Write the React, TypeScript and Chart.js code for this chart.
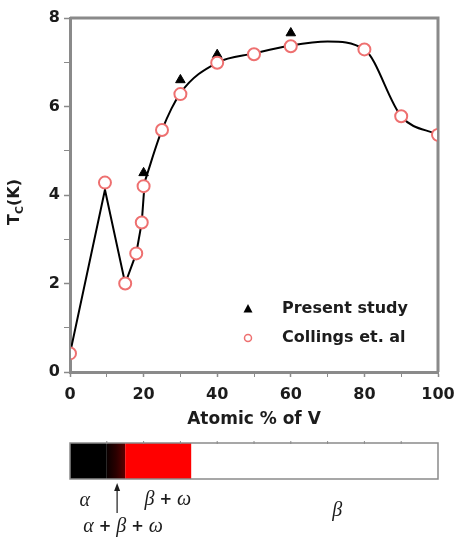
import React, { useEffect, useRef } from 'react';
import { Chart, registerables } from 'chart.js';

Chart.register(...registerables);

// ---- data ----
const collingsX = [0, 9.5, 15, 18, 19.5, 20, 25, 30, 40, 50, 60, 80, 90, 100];
const collingsTc = [0.42, 4.28, 2.0, 2.68, 3.38, 4.2, 5.47, 6.28, 6.99, 7.18, 7.36, 7.29, 5.78, 5.36];
const presentX = [20, 30, 40, 60];
const presentTc = [4.5, 6.6, 7.17, 7.66];
const kinkX = [0, 9.5, 15, 18, 19.5, 20.3];
const kinkTc = [0.42, 4.12, 2.0, 2.68, 3.38, 4.3];
const curveX = [20.3, 25, 30, 40, 50, 60, 70, 80, 90, 100];
const curveTc = [4.3, 5.47, 6.3, 6.99, 7.2, 7.38, 7.47, 7.29, 5.78, 5.36];
const xTickLabels = [0, 20, 40, 60, 80, 100];
const yTickLabels = [0, 2, 4, 6, 8];
const phaseNames = ['α', 'α + β + ω', 'β + ω', 'β'];
const phaseBounds = [0, 10, 15, 33, 100];
const phaseLabelX = [4, 14.4, 26.6, 72.6];
const arrowX = 12.8;
const legendNames = ['Present study', 'Collings et. al'];

const GRAY = '#8a8a8a';
const INK = '#1c1c1c';
const CIRCLE = '#ee7070';
const SANS = '"DejaVu Sans", sans-serif';
const SERIF = '"Liberation Serif", "DejaVu Serif", serif';

function pts(xs: number[], ys: number[]) {
  return xs.map((x, i) => ({ x, y: ys[i] }));
}

function drawGreek(ctx: CanvasRenderingContext2D, text: string, cx: number, cy: number) {
  const parts = text.split(' ');
  const fontFor = (p: string) => (p === '+' ? `bold 15px ${SANS}` : `italic 20px ${SERIF}`);
  const gap = 5;
  let total = 0;
  const widths = parts.map((p) => {
    ctx.font = fontFor(p);
    const w = ctx.measureText(p).width;
    total += w;
    return w;
  });
  total += gap * (parts.length - 1);
  let x = cx - total / 2;
  ctx.textBaseline = 'middle';
  ctx.textAlign = 'left';
  parts.forEach((p, i) => {
    ctx.font = fontFor(p);
    ctx.fillText(p, x, cy);
    x += widths[i] + gap;
  });
}

const framePlugin = {
  id: 'frame',
  beforeDatasetsDraw(chart: any) {
    const { ctx, chartArea: a } = chart;
    ctx.save();
    ctx.strokeStyle = GRAY;
    ctx.lineWidth = 3;
    ctx.beginPath();
    ctx.moveTo(a.left, a.top);
    ctx.lineTo(a.right, a.top);
    ctx.lineTo(a.right, a.bottom);
    ctx.stroke();
    ctx.restore();
    ctx.save();
    ctx.beginPath();
    ctx.rect(a.left + 1, a.top - 12, a.right - a.left - 2, a.bottom - a.top + 12);
    ctx.clip();
  },
  afterDatasetsDraw(chart: any) {
    chart.ctx.restore();
  },
};

const decorPlugin = {
  id: 'decor',
  afterDraw(chart: any) {
    const { ctx, chartArea: a, scales } = chart;
    const xs = scales.x;
    ctx.save();

    // y axis title with subscript
    ctx.translate(15, (a.top + a.bottom) / 2 + 7);
    ctx.rotate(-Math.PI / 2);
    ctx.fillStyle = INK;
    ctx.textBaseline = 'middle';
    ctx.textAlign = 'left';
    const big = `bold 16px ${SANS}`;
    const small = `bold 11px ${SANS}`;
    ctx.font = big;
    const wT = ctx.measureText('T').width;
    ctx.font = small;
    const wC = ctx.measureText('C').width;
    ctx.font = big;
    const wK = ctx.measureText('(K)').width;
    let tx = -(wT + wC + wK) / 2;
    ctx.fillText('T', tx, 0);
    tx += wT;
    ctx.font = small;
    ctx.fillText('C', tx, 5);
    tx += wC;
    ctx.font = big;
    ctx.fillText('(K)', tx, 0);
    ctx.restore();

    // legend inside plot
    ctx.save();
    const mx = a.left + 178;
    const tx0 = a.left + 212;
    const ly = [a.top + 291, a.top + 320];
    ctx.fillStyle = '#000';
    ctx.beginPath();
    ctx.moveTo(mx, ly[0] - 5);
    ctx.lineTo(mx + 4.5, ly[0] + 3.5);
    ctx.lineTo(mx - 4.5, ly[0] + 3.5);
    ctx.closePath();
    ctx.fill();
    ctx.strokeStyle = CIRCLE;
    ctx.lineWidth = 1.5;
    ctx.beginPath();
    ctx.arc(mx, ly[1], 3.5, 0, Math.PI * 2);
    ctx.stroke();
    ctx.fillStyle = INK;
    ctx.font = `bold 16px ${SANS}`;
    ctx.textBaseline = 'middle';
    ctx.textAlign = 'left';
    legendNames.forEach((n, i) => ctx.fillText(n, tx0, ly[i]));
    ctx.restore();

    // phase bar
    ctx.save();
    const top = a.bottom + 71;
    const h = 36;
    const colors = ['#000000', null, '#ff0000', '#ffffff'];
    for (let i = 0; i < phaseNames.length; i++) {
      const x0 = xs.getPixelForValue(phaseBounds[i]);
      const x1 = xs.getPixelForValue(phaseBounds[i + 1]);
      if (colors[i]) {
        ctx.fillStyle = colors[i] as string;
      } else {
        const g = ctx.createLinearGradient(x0, 0, x1, 0);
        g.addColorStop(0, '#0a0000');
        g.addColorStop(0.5, '#2a0000');
        g.addColorStop(1, '#5a0000');
        ctx.fillStyle = g;
      }
      ctx.fillRect(x0, top, x1 - x0, h);
    }
    ctx.strokeStyle = GRAY;
    ctx.lineWidth = 1.5;
    const bl = xs.getPixelForValue(0);
    const br = xs.getPixelForValue(100);
    ctx.strokeRect(bl, top, br - bl, h);
    ctx.lineWidth = 1;
    for (let v = 10; v < 100; v += 10) {
      const px = xs.getPixelForValue(v);
      ctx.beginPath();
      ctx.moveTo(px, top - 2);
      ctx.lineTo(px, top + 1);
      ctx.stroke();
    }
    // phase labels
    ctx.fillStyle = INK;
    const rows = [top + h + 22, top + h + 48, top + h + 21, top + h + 32];
    phaseNames.forEach((n, i) => drawGreek(ctx, n, xs.getPixelForValue(phaseLabelX[i]), rows[i]));
    // arrow
    const ax = xs.getPixelForValue(arrowX);
    ctx.strokeStyle = INK;
    ctx.lineWidth = 1.2;
    ctx.beginPath();
    ctx.moveTo(ax, top + h + 34);
    ctx.lineTo(ax, top + h + 8);
    ctx.stroke();
    ctx.beginPath();
    ctx.moveTo(ax, top + h + 4);
    ctx.lineTo(ax + 3, top + h + 12);
    ctx.lineTo(ax - 3, top + h + 12);
    ctx.closePath();
    ctx.fill();
    ctx.restore();
  },
};

export default function App() {
  const ref = useRef<HTMLCanvasElement | null>(null);

  useEffect(() => {
    if (!ref.current) return;
    const chart = new Chart(ref.current, {
      type: 'scatter',
      data: {
        datasets: [
          {
            label: 'kink',
            data: pts(kinkX, kinkTc),
            showLine: true,
            borderColor: '#000',
            borderWidth: 2,
            pointRadius: 0,
            tension: 0,
            order: 3,
          },
          {
            label: 'curve',
            data: pts(curveX, curveTc),
            showLine: true,
            borderColor: '#000',
            borderWidth: 2,
            pointRadius: 0,
            cubicInterpolationMode: 'monotone',
            order: 3,
          },
          {
            label: legendNames[0],
            data: pts(presentX, presentTc),
            pointStyle: 'triangle',
            pointRadius: 5.5,
            backgroundColor: '#000',
            borderColor: '#000',
            borderWidth: 1,
            order: 2,
          },
          {
            label: legendNames[1],
            data: pts(collingsX, collingsTc),
            pointStyle: 'circle',
            pointRadius: 6,
            backgroundColor: '#fff',
            borderColor: CIRCLE,
            borderWidth: 2,
            order: 1,
          },
        ],
      } as any,
      options: {
        animation: false,
        responsive: false,
        devicePixelRatio: 1,
        layout: { padding: { left: 0, right: 16, top: 18, bottom: 107 } },
        plugins: { legend: { display: false }, tooltip: { enabled: false } },
        scales: {
          x: {
            type: 'linear',
            min: 0,
            max: 100,
            afterFit: (s: any) => {
              s.height = 58;
              s.paddingLeft = 0;
              s.paddingRight = 0;
            },
            border: { display: true, color: GRAY, width: 3 },
            grid: {
              drawOnChartArea: false,
              drawTicks: true,
              tickLength: 5,
              color: GRAY,
              tickColor: GRAY,
              tickWidth: (c: any) => (c.tick && c.tick.value % 20 === 0 ? 1.5 : 1),
            },
            ticks: {
              stepSize: 10,
              autoSkip: false,
              maxRotation: 0,
              padding: 8,
              color: INK,
              font: { family: SANS, weight: 'bold', size: 16 },
              callback: (v: any) => (xTickLabels.includes(Number(v)) ? String(v) : ''),
            },
            title: {
              display: true,
              text: 'Atomic % of V',
              color: INK,
              font: { family: SANS, weight: 'bold', size: 17 },
              padding: { top: 0, bottom: 0 },
            },
          },
          y: {
            type: 'linear',
            min: 0,
            max: 8,
            afterFit: (s: any) => {
              s.width = 70;
            },
            border: { display: true, color: GRAY, width: 3 },
            grid: {
              drawOnChartArea: false,
              drawTicks: true,
              tickLength: 6,
              color: GRAY,
              tickColor: GRAY,
              tickWidth: (c: any) => (c.tick && c.tick.value % 2 === 0 ? 1.5 : 1),
            },
            ticks: {
              stepSize: 1,
              autoSkip: false,
              padding: 4,
              color: INK,
              font: { family: SANS, weight: 'bold', size: 16 },
              callback: (v: any) => (yTickLabels.includes(Number(v)) ? String(v) : ''),
            },
          },
        },
      } as any,
      plugins: [framePlugin, decorPlugin],
    });
    return () => chart.destroy();
  }, []);

  return (
    <div style={{ position: 'absolute', left: 0, top: 0, width: 454, height: 537, background: '#fff' }}>
      <canvas ref={ref} width={454} height={537} style={{ display: 'block' }} />
    </div>
  );
}
